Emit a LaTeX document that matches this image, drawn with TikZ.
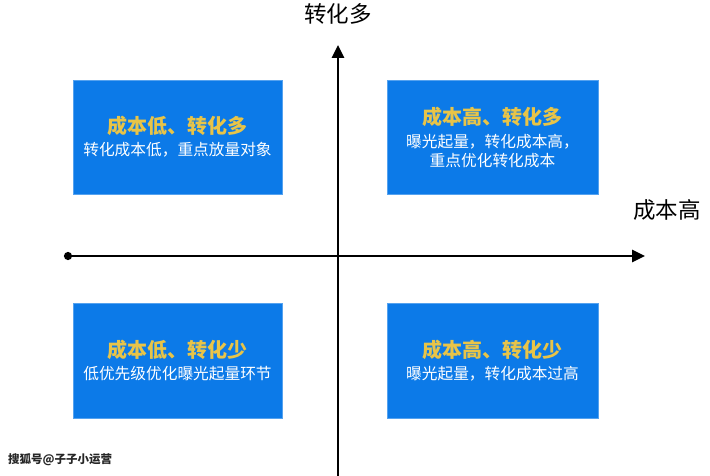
\documentclass[tikz,border=0pt]{standalone}
\usepackage{fontspec}
\setmainfont{Noto Sans CJK SC}
\usepackage{tikz}
\usetikzlibrary{positioning,arrows.meta}
\definecolor{quadblue}{RGB}{12,122,232}
\definecolor{quadgold}{RGB}{232,196,72}
\begin{document}
\begin{tikzpicture}[x=1pt, y=-1pt,
  quad/.style={fill=quadblue, draw=quadblue!70!white, line width=0.6pt, align=center,
               text=white, inner sep=0pt, font=\fontsize{15.7}{19}\selectfont},
  axis/.style={line width=2.9pt, black, -{Triangle[length=13pt,width=12pt]}},
  axlabel/.style={font=\fontsize{22.5}{26}\selectfont, black}]
\useasboundingbox (0,0) rectangle (710,476);
\coordinate (xstart) at (64,256);
\coordinate (xend) at (645,256);
\coordinate (ystart) at (338,476);
\coordinate (yend) at (338,45);
% four quadrants
\node[quad, minimum width=209pt, minimum height=114pt] (lowmore) at (177.5,137)
  {{\fontsize{20}{23}\selectfont\bfseries\color{quadgold}成本低、转化多}\\[3pt]
   转化成本低，重点放量对象};
\node[quad, minimum width=211pt, minimum height=114pt] (highmore) at (492.5,137)
  {{\fontsize{20}{23}\selectfont\bfseries\color{quadgold}成本高、转化多}\\[4pt]
   曝光起量，转化成本高，\\ 重点优化转化成本};
\node[quad, minimum width=209pt, minimum height=115pt] (lowless) at (177.5,360.5)
  {{\fontsize{20}{23}\selectfont\bfseries\color{quadgold}成本低、转化少}\\[3pt]
   低优先级优化曝光起量环节};
\node[quad, minimum width=211pt, minimum height=115pt] (highless) at (492.5,360.5)
  {{\fontsize{20}{23}\selectfont\bfseries\color{quadgold}成本高、转化少}\\[3pt]
   曝光起量，转化成本过高};
% axes
\draw[axis] (ystart) -- (yend);
\draw[axis, {Circle[length=8pt]}-{Triangle[length=13pt,width=12pt]}] (xstart) -- (xend);
\node[axlabel] (ylab) at (338,14) {转化多};
\node[axlabel] (xlab) at (667,210) {成本高};
\node[font=\fontsize{11.5}{14}\selectfont\bfseries, text=black!85, anchor=west, inner sep=0pt] (mark) at (8,460) {搜狐号@子子小运营};
\end{tikzpicture}
\end{document}
